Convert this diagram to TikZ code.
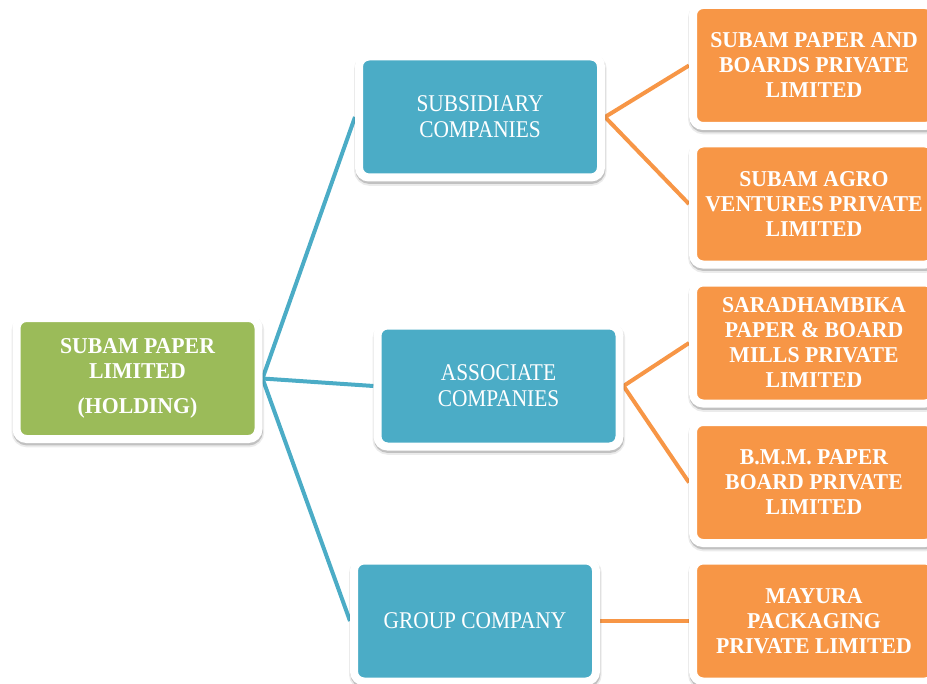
\documentclass[tikz,border=0pt]{standalone}
\usepackage{fontspec}
\setmainfont{Liberation Serif}
\newfontfamily\kindfont{Liberation Serif}[FakeStretch=0.89]
\newfontfamily\namefont{Liberation Serif}[FakeStretch=0.96]
\usetikzlibrary{backgrounds}

\definecolor{holdgreen}{HTML}{9BBB59}
\definecolor{kindblue}{HTML}{4BACC6}
\definecolor{firmorange}{HTML}{F79646}

\tikzset{
  box/.style={rectangle, rounded corners=7.5pt, draw=white, line width=6pt,
    minimum width=181.5pt, minimum height=90.75pt, inner sep=0pt,
    text=white, align=center,
    preaction={draw=black, draw opacity=0.08, line width=8pt,
      transform canvas={shift={(0.3pt,-2.2pt)}}},
    preaction={draw=black, draw opacity=0.18, line width=6pt,
      transform canvas={shift={(0.3pt,-1.8pt)}}}},
  holdbox/.style={box, fill=holdgreen, font=\namefont\bfseries\fontsize{17}{18.75}\selectfont},
  kindbox/.style={box, fill=kindblue, font=\kindfont\fontsize{18}{19.5}\selectfont},
  firmbox/.style={box, fill=firmorange, font=\namefont\bfseries\fontsize{17}{18.75}\selectfont},
  kindline/.style={draw=kindblue, line width=3pt},
  firmline/.style={draw=firmorange, line width=3pt}
}

\begin{document}
\begin{tikzpicture}[x=0.75pt,y=-0.75pt]
\useasboundingbox (0,0) rectangle (927,684);

% holding company
\node[holdbox] (hold) at (137.5,378.5) {SUBAM PAPER\\LIMITED\\[8pt](HOLDING)};

% kinds of company
\node[kindbox] (sub) at (480,117) {SUBSIDIARY\\COMPANIES};
\node[kindbox] (assoc) at (498.5,386) {ASSOCIATE\\COMPANIES};
\node[kindbox] (group) at (475,621) {\raisebox{-5pt}{GROUP COMPANY}};

% companies
\node[firmbox] (spab) at (814,65.5) {SUBAM PAPER AND\\BOARDS PRIVATE\\LIMITED};
\node[firmbox] (sagro) at (814,204) {SUBAM AGRO\\VENTURES PRIVATE\\LIMITED};
\node[firmbox] (sbmills) at (814,343) {SARADHAMBIKA\\PAPER \& BOARD\\MILLS PRIVATE\\LIMITED};
\node[firmbox] (bmm) at (814,482.5) {B.M.M. PAPER\\BOARD PRIVATE\\LIMITED};
\node[firmbox] (mayura) at (814,621) {MAYURA\\PACKAGING\\PRIVATE LIMITED};

\begin{scope}[on background layer]
\draw[kindline] (hold.east) -- (sub.west);
\draw[kindline] (hold.east) -- (assoc.west);
\draw[kindline] (hold.east) -- (group.west);

\draw[firmline] (sub.east) -- (spab.west);
\draw[firmline] (sub.east) -- (sagro.west);
\draw[firmline] (assoc.east) -- (sbmills.west);
\draw[firmline] (assoc.east) -- (bmm.west);
\draw[firmline] (group.east) -- (mayura.west);
\end{scope}

\end{tikzpicture}
\end{document}
